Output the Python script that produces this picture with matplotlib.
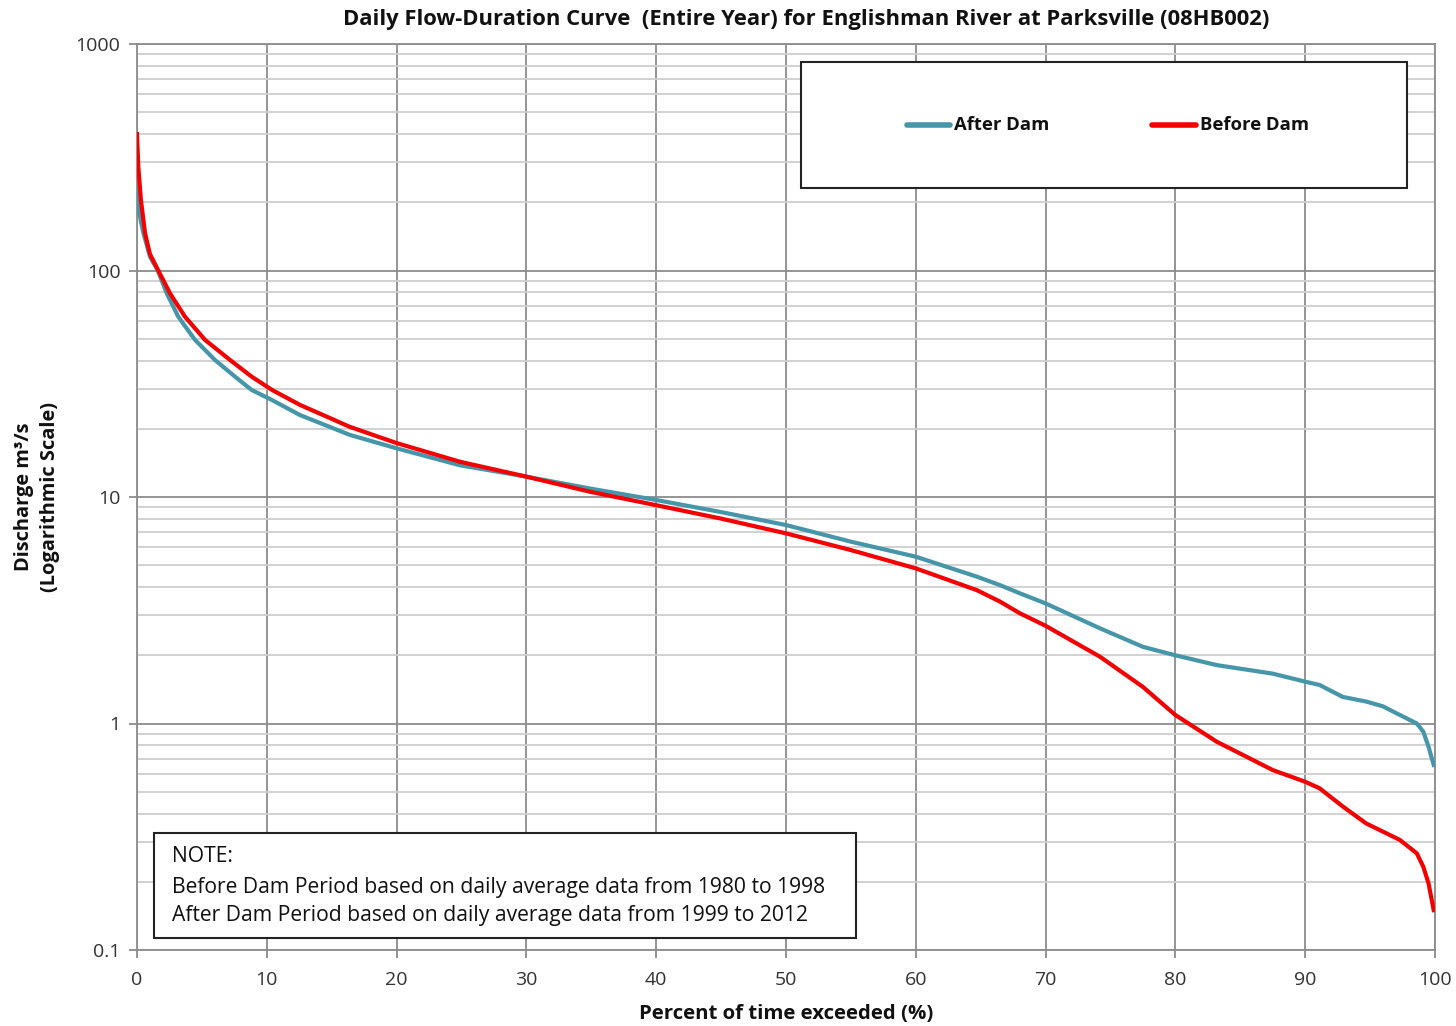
import matplotlib
matplotlib.use("Agg")
import matplotlib.pyplot as plt
from matplotlib.patches import Rectangle
from matplotlib.lines import Line2D
from matplotlib.ticker import LogLocator, FixedLocator, NullFormatter

plt.rcParams['font.family'] = ['Open Sans', 'DejaVu Sans']

# Percent of time exceeded (%) and discharge (m3/s)
before_pct = [0.0, 0.1, 0.3, 0.62, 1.0, 1.64, 2.54, 3.70, 5.24, 7.16, 8.83, 10.4,
              12.56, 16.4, 20.0, 24.9, 30.0, 34.9, 40.0, 44.9, 50.0, 55.0, 60.0,
              64.7, 66.5, 68.0, 70.0, 74.2, 77.5, 80.0, 83.2, 87.5, 90.0, 91.1,
              92.9, 94.7, 96.0, 97.3, 98.6, 99.1, 99.5, 99.9]
before_q = [400, 287, 205, 146, 118, 100, 79.3, 62.5, 49.4, 40.3, 34.0, 29.7,
            25.5, 20.4, 17.3, 14.3, 12.3, 10.55, 9.2, 8.05, 6.91, 5.83, 4.84,
            3.88, 3.45, 3.07, 2.70, 1.97, 1.45, 1.09, 0.83, 0.623, 0.553, 0.518,
            0.43, 0.362, 0.333, 0.306, 0.267, 0.233, 0.197, 0.150]

after_pct = [0.0, 0.1, 0.3, 0.5, 1.0, 1.6, 2.29, 3.18, 4.47, 6.0, 7.55, 8.83, 10.4,
             12.56, 16.4, 20.0, 24.9, 30.0, 34.9, 40.0, 44.9, 50.0, 55.0, 60.0,
             64.7, 66.5, 68.0, 70.0, 74.2, 77.5, 80.0, 83.2, 87.5, 90.0, 91.1,
             92.9, 94.7, 96.0, 97.3, 98.6, 99.1, 99.5, 99.9]
after_q = [230, 190, 165, 146, 115, 100, 79.3, 62.5, 49.4, 40.3, 34.0, 29.7, 26.8,
           23.0, 18.8, 16.4, 13.8, 12.3, 10.9, 9.7, 8.6, 7.52, 6.35, 5.45,
           4.45, 4.08, 3.76, 3.39, 2.63, 2.18, 2.0, 1.81, 1.66, 1.53, 1.48,
           1.31, 1.25, 1.19, 1.09, 1.0, 0.92, 0.79, 0.656]

x_ticks = [0, 10, 20, 30, 40, 50, 60, 70, 80, 90, 100]
y_ticks = [0.1, 1, 10, 100, 1000]
y_tick_labels = ["0.1", "1", "10", "100", "1000"]

title = "Daily Flow-Duration Curve  (Entire Year) for Englishman River at Parksville (08HB002)"
xlabel = "Percent of time exceeded (%)"
ylabel = "Discharge m\u00b3/s\n(Logarithmic Scale)"
series_names = ["After Dam", "Before Dam"]
note_lines = ["NOTE:",
              "Before Dam Period based on daily average data from 1980 to 1998",
              "After Dam Period based on daily average data from 1999 to 2012"]

TEAL = "#4696AA"
RED = "#F50000"

W, H = 1456, 1026
fig = plt.figure(figsize=(W / 100, H / 100), dpi=100)
ax = fig.add_axes([137 / W, 1 - 950 / H, (1435 - 137) / W, (950 - 44) / H])

ax.set_yscale('log')
ax.set_xlim(0, 100)
ax.set_ylim(0.1, 1000)

ax.xaxis.set_major_locator(FixedLocator(x_ticks))
ax.yaxis.set_major_locator(FixedLocator(y_ticks))
ax.set_yticklabels(y_tick_labels)
ax.yaxis.set_minor_locator(LogLocator(base=10, subs=range(2, 10)))
ax.yaxis.set_minor_formatter(NullFormatter())

ax.grid(True, which='major', axis='both', color='#8c8c8c', linewidth=1.3)
ax.grid(True, which='minor', axis='y', color='#cfcfcf', linewidth=1.3)
ax.set_axisbelow(True)

for s in ax.spines.values():
    s.set_color('#8c8c8c')
    s.set_linewidth(1.3)

ax.tick_params(axis='both', which='major', direction='out', length=6, width=1.3,
               color='#8c8c8c', labelsize=14, labelcolor='#333333')
ax.tick_params(axis='x', which='major', pad=9)
ax.tick_params(axis='y', which='major', pad=6)
ax.tick_params(axis='y', which='minor', length=0)

ax.plot(after_pct, after_q, color=TEAL, lw=3.0, solid_joinstyle='round', zorder=3)
ax.plot(before_pct, before_q, color=RED, lw=3.0, solid_joinstyle='round', zorder=4)

fig.text(806 / W, 1 - 19 / H, title, ha='center', va='center', fontsize=15.8,
         fontweight='bold', color='#111111')
fig.text(786 / W, 1 - 1014 / H, xlabel, ha='center', va='center', fontsize=14.7,
         fontweight='bold', color='#111111')
fig.text(37 / W, 1 - 497 / H, ylabel, ha='center', va='center', fontsize=14.4,
         fontweight='bold', color='#111111', rotation=90, linespacing=1.35,
         multialignment='center')

# legend box
fig.patches.append(Rectangle((801 / W, 1 - 188 / H), (1407 - 801) / W, (188 - 62) / H,
                             transform=fig.transFigure, facecolor='white',
                             edgecolor='#222222', linewidth=1.5, zorder=5))
ly = 1 - 125 / H
fig.lines.append(Line2D([907 / W, 950 / W], [ly, ly], transform=fig.transFigure,
                        color=TEAL, lw=4, solid_capstyle='round', zorder=6))
fig.text(954 / W, ly, series_names[0], ha='left', va='center', fontsize=13.3,
         fontweight='bold', color='#111111', zorder=6)
fig.lines.append(Line2D([1152 / W, 1196 / W], [ly, ly], transform=fig.transFigure,
                        color=RED, lw=4, solid_capstyle='round', zorder=6))
fig.text(1200 / W, ly, series_names[1], ha='left', va='center', fontsize=13.3,
         fontweight='bold', color='#111111', zorder=6)

# note box
fig.patches.append(Rectangle((154 / W, 1 - 938 / H), (856 - 154) / W, (938 - 833) / H,
                             transform=fig.transFigure, facecolor='white',
                             edgecolor='#222222', linewidth=1.5, zorder=5))
for txt, yy in zip(note_lines, [857, 887, 916]):
    fig.text(172 / W, 1 - yy / H, txt, ha='left', va='center', fontsize=15.2,
             color='#111111', zorder=6)

fig.savefig("out.png", dpi=100)
